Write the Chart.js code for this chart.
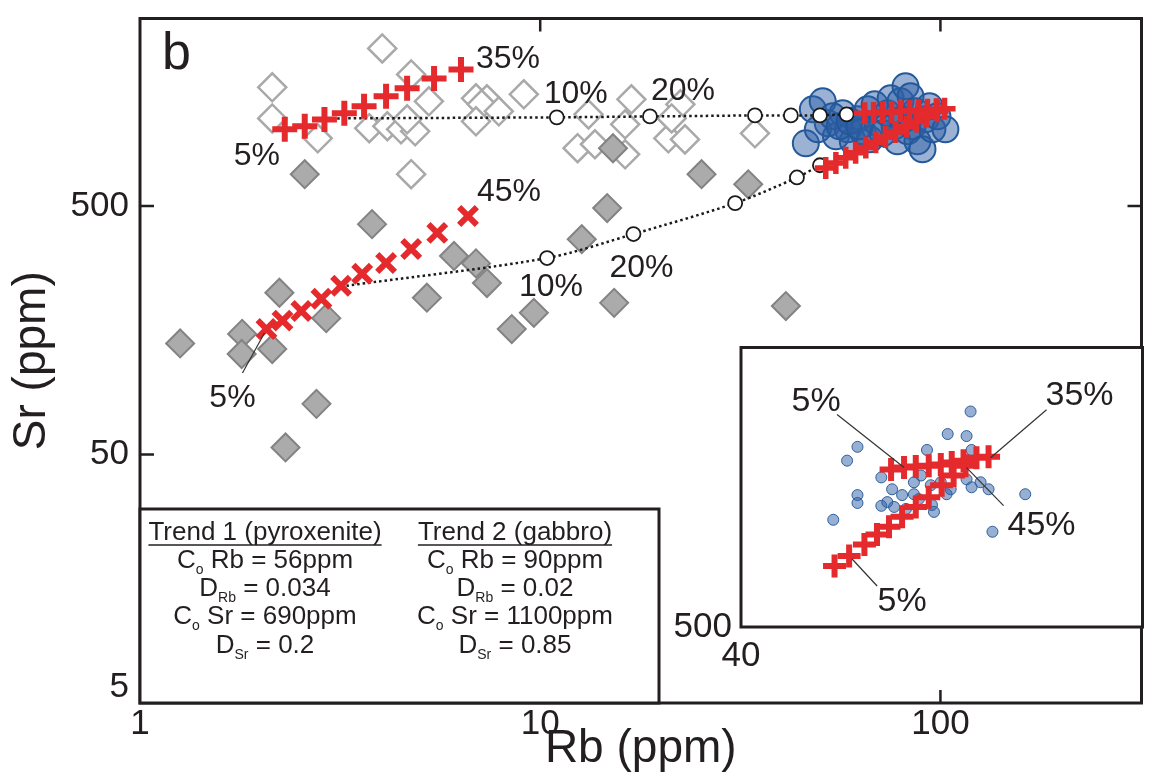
<!DOCTYPE html>
<html>
<head>
<meta charset="utf-8">
<script src="https://cdn.jsdelivr.net/npm/chart.js@4"></script>
<style>
  html, body { margin: 0; padding: 0; background: #fff; }
  #wrap { position: relative; width: 1160px; height: 778px; }
  #main { position: absolute; left: 0; top: 0; width: 1160px; height: 778px; }
  #inset { position: absolute; left: 640px; top: 330px; width: 520px; height: 360px; }
</style>
</head>
<body>
<div id="wrap">
  <canvas id="main" width="1160" height="778"></canvas>
  <canvas id="inset" width="520" height="360"></canvas>
</div>
<script>
// ---- data (Rb, Sr in ppm) ----
const rbTicks = [1, 10, 100];
const srTicks = [5, 50, 500];

// open grey diamonds
const openRb = [4.03, 2.14, 2.14, 2.78, 4.76, 5.27, 3.74, 4.15, 4.49, 4.87, 4.65, 6.91, 7.36, 7.14, 7.88, 6.91, 9.10, 4.76, 13.2, 12.4, 13.7, 16.3, 16.9, 16.3, 20.9, 23.0, 22.4, 21.3, 34.4];
const openSr = [2155, 1503, 1127, 937, 1694, 1321, 1029, 1048, 1019, 1000, 1118, 1358, 1345, 1284, 1204, 1097, 1409, 672, 1170, 855, 887, 808, 1345, 1067, 937, 928, 1284, 1127, 982];

// filled grey diamonds
const filledRb = [2.58, 3.80, 1.26, 1.80, 1.795, 2.14, 2.23, 2.92, 2.76, 2.31, 6.09, 6.91, 7.36, 5.21, 8.49, 9.64, 14.7, 12.7, 15.3, 41.1, 33.1, 15.2, 25.3];
const filledSr = [672, 423, 140, 153, 127, 133, 224, 177, 80, 53.4, 315, 294, 245, 214, 160, 186, 491, 368, 204, 198, 612, 855, 672];

// blue circles
const blueRb = [46.1, 48.0, 50.8, 52.3, 54.8, 57.0, 58.7, 60.4, 62.1, 63.9, 65.8, 66.6, 68.5, 69.7, 71.7, 73.8, 75.1, 76.8, 78.1, 79.5, 80.4, 81.8, 82.8, 84.2, 85.2, 86.6, 87.6, 90.2, 91.8, 93.9, 95.5, 98.3, 102.9, 49.4, 53.8, 56.0, 59.3, 62.8];
const blueSr = [895, 1226, 1321, 1077, 955, 1181, 1019, 912, 1118, 1000, 1226, 929, 1284, 1077, 982, 1181, 1358, 1048, 912, 1321, 1118, 1517, 1000, 1383, 1048, 1204, 912, 847, 1118, 1261, 1019, 1149, 1019, 1019, 1149, 1048, 1097, 1048];

// melting trends
const melt1Rb = [2.30, 2.58, 2.89, 3.24, 3.63, 4.12, 4.65, 5.43, 6.34];
const melt1Sr = [1020, 1048, 1117, 1181, 1261, 1383, 1489, 1633, 1775];
const melt2Rb = [2.07, 2.27, 2.53, 2.84, 3.18, 3.59, 4.12, 4.76, 5.53, 6.60];
const melt2Sr = [160, 173, 189, 212, 239, 267, 295, 336, 390, 456];

// dotted crystallisation curves
const fc1Rb = [3.11, 11.0, 18.8, 34.4, 42.3, 50.0, 58.3, 64.7];
const fc1Sr = [1127, 1138, 1148, 1159, 1159, 1159, 1170, 1181];
const fc2Rb = [3.28, 10.4, 17.1, 30.7, 43.8, 50.0];
const fc2Sr = [239, 309, 386, 514, 652, 730];

// red crosses at the blue cluster
const row1Rb = [64.7, 68.1, 71.7, 75.5, 79.5, 83.7, 88.1, 92.8, 97.7, 102.4];
const row1Sr = [1181, 1186, 1192, 1197, 1203, 1208, 1214, 1220, 1226, 1232];
const row2Rb = [51.7, 54.8, 58.0, 61.4, 65.1, 68.9, 72.9, 77.2, 82.3, 87.1, 92.3, 98.3];
const row2Sr = [711, 746, 782, 820, 861, 903, 948, 994, 1043, 1094, 1148, 1204];

// inset
const insetBlueRb = [100.4, 91.6, 98.8, 63.8, 61.2, 84.3, 100.8, 70.2, 73.3, 63.8, 63.8, 76.3, 80.0, 70.2, 71.9, 86.7, 86.0, 81.6, 91.2, 92.7, 98.8, 100.8, 104.5, 107.9, 125.0, 57.9, 109.6, 89.1, 82.3, 80.0, 85.6, 77.5, 73.9];
const insetBlueSr = [1456, 1302, 1289, 1222, 1141, 1203, 1203, 1050, 990, 962, 925, 962, 966, 912, 929, 885, 916, 943, 966, 990, 1040, 1000, 1025, 990, 966, 851, 802, 1025, 1060, 1025, 1010, 898, 907];
const insetT1Rb = [73.0, 76.9, 80.6, 84.9, 89.1, 93.1, 97.6, 102.8, 107.9];
const insetT1Sr = [1092, 1103, 1108, 1113, 1119, 1130, 1141, 1157, 1163];
const insetT2Rb = [58.2, 61.7, 65.6, 69.0, 72.4, 76.3, 80.6, 84.9, 89.4, 93.8, 98.4];
const insetT2Sr = [677, 711, 753, 791, 822, 864, 907, 952, 1010, 1060, 1113];

// text box
const legendHeads = ['Trend 1 (pyroxenite)', 'Trend 2 (gabbro)'];
const legendCoRb = ['56ppm', '90ppm'];
const legendDRb = ['0.034', '0.02'];
const legendCoSr = ['690ppm', '1100ppm'];
const legendDSr = ['0.2', '0.85'];

// ---- drawing ----
const INK = '#231f20';
const RED = '#e42a2c';
const FONT = "'Liberation Sans', Arial, sans-serif";
Chart.defaults.font.family = FONT;
Chart.defaults.color = INK;

const pts = (xs, ys) => xs.map((x, i) => ({x: x, y: ys[i]}));

// keep the plot box where the figure has it: no extra room for edge labels
const noEdgePad = s => { s.paddingTop = 0; s.paddingBottom = 0; s.paddingLeft = 0; s.paddingRight = 0; };

function textAt(ctx, s, cx, cy, size) {
  ctx.font = size + 'px ' + FONT;
  ctx.textAlign = 'center';
  ctx.textBaseline = 'alphabetic';
  ctx.fillText(s, cx, cy + size * 0.36);
}

function drawNotes(chart, notes) {
  const ctx = chart.ctx, sx = chart.scales.x, sy = chart.scales.y;
  ctx.save();
  ctx.fillStyle = INK;
  ctx.strokeStyle = '#333';
  ctx.lineWidth = 1.2;
  notes.forEach(n => {
    const px = sx.getPixelForValue(n.xs[n.i]);
    const py = sy.getPixelForValue(n.ys[n.i]);
    if (n.line) {
      ctx.beginPath();
      ctx.moveTo(px + n.line[0], py + n.line[1]);
      ctx.lineTo(px + n.line[2], py + n.line[3]);
      ctx.stroke();
    }
    textAt(ctx, n.text, px + n.dx, py + n.dy, n.size || 32);
  });
  ctx.restore();
}

function drawFrame(ctx, a, lw) {
  ctx.save();
  ctx.strokeStyle = INK;
  ctx.lineWidth = lw;
  ctx.strokeRect(a.left, a.top, a.right - a.left, a.bottom - a.top);
  ctx.restore();
}

function drawSegs(ctx, segs, cx, base) {
  const big = '26px ' + FONT, small = '14px ' + FONT;
  let w = 0;
  segs.forEach(s => { ctx.font = s.sub ? small : big; s.w = ctx.measureText(s.t).width; w += s.w; });
  let x = cx - w / 2;
  ctx.textAlign = 'left';
  ctx.textBaseline = 'alphabetic';
  segs.forEach(s => {
    ctx.font = s.sub ? small : big;
    ctx.fillText(s.t, x, s.sub ? base + 6 : base);
    x += s.w;
  });
  return {x0: cx - w / 2, w: w};
}

function drawLegendBox(ctx, a) {
  const x0 = a.left, w = 519, h = 194, y0 = a.bottom - h;
  ctx.save();
  ctx.fillStyle = '#fff';
  ctx.fillRect(x0, y0, w, h);
  ctx.strokeStyle = INK;
  ctx.lineWidth = 3;
  ctx.strokeRect(x0, y0, w, h);
  ctx.fillStyle = INK;
  const cols = [x0 + 125, x0 + 375];
  cols.forEach((cx, k) => {
    const head = drawSegs(ctx, [{t: legendHeads[k]}], cx, y0 + 31);
    ctx.lineWidth = 1.5;
    ctx.beginPath();
    ctx.moveTo(head.x0, y0 + 36);
    ctx.lineTo(head.x0 + head.w, y0 + 36);
    ctx.stroke();
    drawSegs(ctx, [{t: 'C'}, {t: 'o', sub: true}, {t: ' Rb = ' + legendCoRb[k]}], cx, y0 + 59);
    drawSegs(ctx, [{t: 'D'}, {t: 'Rb', sub: true}, {t: ' = ' + legendDRb[k]}], cx, y0 + 87);
    drawSegs(ctx, [{t: 'C'}, {t: 'o', sub: true}, {t: ' Sr = ' + legendCoSr[k]}], cx, y0 + 115);
    drawSegs(ctx, [{t: 'D'}, {t: 'Sr', sub: true}, {t: ' = ' + legendDSr[k]}], cx, y0 + 144);
  });
  ctx.restore();
}

const mainNotes = [
  {text: '35%', xs: melt1Rb, ys: melt1Sr, i: 8, dx: 47, dy: -13},
  {text: '5%', xs: melt1Rb, ys: melt1Sr, i: 0, dx: -28, dy: 24},
  {text: '10%', xs: fc1Rb, ys: fc1Sr, i: 1, dx: 19, dy: -26},
  {text: '20%', xs: fc1Rb, ys: fc1Sr, i: 2, dx: 33, dy: -28},
  {text: '45%', xs: melt2Rb, ys: melt2Sr, i: 9, dx: 41, dy: -27},
  {text: '5%', xs: melt2Rb, ys: melt2Sr, i: 0, dx: -34, dy: 66, line: [-24, 44, -2, 4]},
  {text: '10%', xs: fc2Rb, ys: fc2Sr, i: 1, dx: 4, dy: 26},
  {text: '20%', xs: fc2Rb, ys: fc2Sr, i: 2, dx: 8, dy: 31}
];

const insetNotes = [
  {text: '5%', xs: insetT1Rb, ys: insetT1Sr, i: 1, dx: -88, dy: -69, line: [-67, -53, 0, 0], size: 34},
  {text: '35%', xs: insetT1Rb, ys: insetT1Sr, i: 8, dx: 91, dy: -64, line: [58, -47, 2, 1], size: 34},
  {text: '45%', xs: insetT2Rb, ys: insetT2Sr, i: 10, dx: 76, dy: 57, line: [38, 40, 1, 2], size: 34},
  {text: '5%', xs: insetT2Rb, ys: insetT2Sr, i: 1, dx: 53, dy: 43, line: [28, 30, 3, 3], size: 34}
];

const mainDecor = {
  id: 'mainDecor',
  afterDatasetsDraw(chart) {
    const ctx = chart.ctx, a = chart.chartArea;
    const sx = chart.scales.x, sy = chart.scales.y;
    drawFrame(ctx, a, 3);
    ctx.save();
    ctx.strokeStyle = INK;
    ctx.lineWidth = 2.5;
    ctx.beginPath();
    [10, 100].forEach(v => {
      const p = sx.getPixelForValue(v);
      ctx.moveTo(p, a.top); ctx.lineTo(p, a.top + 13);
      ctx.moveTo(p, a.bottom); ctx.lineTo(p, a.bottom - 13);
    });
    [50, 500].forEach(v => {
      const p = sy.getPixelForValue(v);
      ctx.moveTo(a.left, p); ctx.lineTo(a.left + 14, p);
      ctx.moveTo(a.right, p); ctx.lineTo(a.right - 14, p);
    });
    ctx.stroke();
    ctx.fillStyle = INK;
    ctx.font = '52px ' + FONT;
    ctx.textAlign = 'left';
    ctx.textBaseline = 'alphabetic';
    ctx.fillText('b', a.left + 22, a.top + 50);
    ctx.restore();
    drawNotes(chart, mainNotes);
    drawLegendBox(ctx, a);
  }
};

const redCross = (xs, ys, style, r, w, ord) => ({
  data: pts(xs, ys), pointStyle: style, pointRadius: r,
  pointBorderColor: RED, pointBackgroundColor: RED, pointBorderWidth: w, order: ord
});

new Chart(document.getElementById('main'), {
  type: 'scatter',
  data: {
    datasets: [
      {data: pts(openRb, openSr), pointStyle: 'rectRot', pointRadius: 14, pointBackgroundColor: '#fff',
       pointBorderColor: '#a9a9a9', pointBorderWidth: 2.5, order: 7},
      {data: pts(filledRb, filledSr), pointStyle: 'rectRot', pointRadius: 14, pointBackgroundColor: '#ababab',
       pointBorderColor: '#838383', pointBorderWidth: 2, order: 6},
      {data: pts(blueRb, blueSr), pointStyle: 'circle', pointRadius: 13, pointBackgroundColor: 'rgba(45,95,165,0.48)',
       pointBorderColor: '#23599a', pointBorderWidth: 2, order: 5},
      {data: pts(fc1Rb, fc1Sr), showLine: true, borderColor: '#1a1a1a', borderWidth: 2.5, borderDash: [2.5, 3],
       pointRadius: [0, 7, 7, 7, 7, 7, 7, 0], pointBackgroundColor: '#fff', pointBorderColor: '#1a1a1a',
       pointBorderWidth: 1.8, order: 3},
      {data: pts(fc2Rb, fc2Sr), showLine: true, tension: 0.3, borderColor: '#1a1a1a', borderWidth: 2.5,
       borderDash: [2.5, 3], pointRadius: [0, 7, 7, 7, 7, 7], pointBackgroundColor: '#fff',
       pointBorderColor: '#1a1a1a', pointBorderWidth: 1.8, order: 3},
      redCross(melt1Rb, melt1Sr, 'cross', 12.5, 6, 1),
      redCross(melt2Rb, melt2Sr, 'crossRot', 12.5, 6, 1),
      redCross(row2Rb, row2Sr, 'cross', 11, 5.5, 2),
      redCross(row1Rb, row1Sr, 'cross', 11, 5.5, 1)
    ]
  },
  options: {
    responsive: false,
    animation: false,
    devicePixelRatio: 1,
    events: [],
    layout: {padding: {top: 17, right: 15, left: 0, bottom: 0}},
    plugins: {legend: {display: false}, tooltip: {enabled: false}},
    scales: {
      x: {
        type: 'logarithmic', min: 1, max: 318, bounds: 'data',
        afterBuildTicks: s => { s.ticks = rbTicks.map(v => ({value: v})); },
        afterFit: s => { s.height = 75; noEdgePad(s); },
        grid: {display: false, drawTicks: false},
        border: {display: false},
        ticks: {font: {size: 35}, color: INK, padding: 0, autoSkip: false, maxRotation: 0,
                callback: v => String(v)},
        title: {display: true, text: 'Rb (ppm)', font: {size: 46}, color: INK, padding: {top: 0, bottom: 1}}
      },
      y: {
        type: 'logarithmic', min: 5, max: 2845, bounds: 'data',
        afterBuildTicks: s => { s.ticks = srTicks.map(v => ({value: v})); },
        afterFit: s => { s.width = 140; noEdgePad(s); },
        grid: {display: false, drawTicks: false},
        border: {display: false},
        ticks: {font: {size: 35, lineHeight: 0.9}, color: INK, padding: 11, autoSkip: false,
                callback: v => (v === 5 ? ['5', ''] : String(v))},
        title: {display: true, text: 'Sr (ppm)', font: {size: 46}, color: INK, padding: {top: 5, bottom: 0}}
      }
    }
  },
  plugins: [mainDecor]
});

const insetDecor = {
  id: 'insetDecor',
  beforeDraw(chart) {
    const a = chart.chartArea, ctx = chart.ctx;
    ctx.save();
    ctx.fillStyle = '#fff';
    ctx.fillRect(a.left, a.top, a.right - a.left, a.bottom - a.top);
    ctx.restore();
  },
  afterDatasetsDraw(chart) {
    drawFrame(chart.ctx, chart.chartArea, 3);
    drawNotes(chart, insetNotes);
  }
};

new Chart(document.getElementById('inset'), {
  type: 'scatter',
  data: {
    datasets: [
      {data: pts(insetBlueRb, insetBlueSr), pointStyle: 'circle', pointRadius: 5.5,
       pointBackgroundColor: 'rgba(45,95,165,0.5)', pointBorderColor: '#2f609c', pointBorderWidth: 1, order: 3},
      redCross(insetT2Rb, insetT2Sr, 'cross', 11.5, 6, 2),
      redCross(insetT1Rb, insetT1Sr, 'cross', 11.5, 6, 1)
    ]
  },
  options: {
    responsive: false,
    animation: false,
    devicePixelRatio: 1,
    events: [],
    layout: {padding: {top: 13, right: 15, left: 0, bottom: 0}},
    plugins: {legend: {display: false}, tooltip: {enabled: false}},
    scales: {
      x: {
        type: 'logarithmic', min: 40, max: 200, bounds: 'data',
        afterBuildTicks: s => { s.ticks = [{value: 40}]; },
        afterFit: s => { s.height = 63; noEdgePad(s); },
        grid: {display: false, drawTicks: false},
        border: {display: false},
        ticks: {font: {size: 35}, color: INK, padding: 8, autoSkip: false, maxRotation: 0,
                callback: v => String(v)},
      },
      y: {
        type: 'logarithmic', min: 500, max: 2000, bounds: 'data',
        afterBuildTicks: s => { s.ticks = [{value: 500}]; },
        afterFit: s => { s.width = 101; noEdgePad(s); },
        grid: {display: false, drawTicks: false},
        border: {display: false},
        ticks: {font: {size: 35}, color: INK, padding: 9, autoSkip: false, callback: v => String(v)}
      }
    }
  },
  plugins: [insetDecor]
});
</script>
</body>
</html>
